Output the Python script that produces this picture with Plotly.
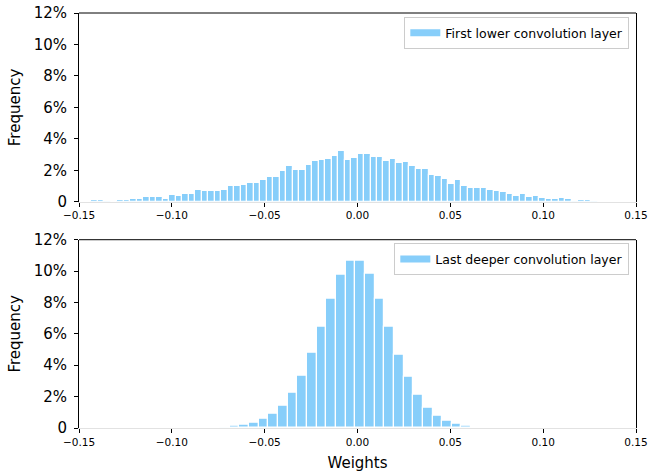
import plotly.graph_objects as go

# ---------------- data (percent of weights per bin) ----------------
top_bin_start = -0.14875   # centre of first bin
top_bin_width = 0.0035
top_freq = [
    0.02, 0.01, 0.10, 0.10, 0.08, 0.01, 0.10, 0.10, 0.17, 0.17,
    0.30, 0.30, 0.30, 0.21, 0.42, 0.36, 0.49, 0.51, 0.74, 0.68,
    0.70, 0.72, 0.74, 0.98, 0.98, 1.06, 1.21, 1.21, 1.38, 1.60,
    1.59, 1.95, 2.25, 2.02, 2.04, 2.31, 2.59, 2.65, 2.72, 2.91,
    3.25, 2.68, 2.80, 3.04, 3.01, 2.87, 2.87, 2.57, 2.70, 2.48,
    2.51, 2.27, 2.06, 2.08, 1.70, 1.61, 1.44, 1.14, 1.38, 1.02,
    0.91, 0.85, 0.85, 0.74, 0.70, 0.64, 0.47, 0.40, 0.47, 0.28,
    0.34, 0.23, 0.17, 0.17, 0.23, 0.15, 0.04, 0.10, 0.10, 0.08,
    0.01, 0.01, 0.02, 0.00, 0.01, 0.02,
]

bottom_bin_start = -0.0818   # centre of first bin
bottom_bin_width = 0.0052
bottom_freq = [
    0.01, 0.03, 0.06, 0.13, 0.22, 0.34, 0.57, 0.89, 1.45, 2.26,
    3.32, 4.81, 6.47, 8.21, 9.74, 10.66, 10.66, 9.81, 8.21, 6.43,
    4.68, 3.24, 2.09, 1.32, 0.79, 0.49, 0.26, 0.13, 0.04, 0.02, 0.01,
]

top_name = "First lower convolution layer"
bottom_name = "Last deeper convolution layer"

x_tick_vals = [-0.15, -0.10, -0.05, 0.00, 0.05, 0.10, 0.15]
x_tick_text = ["\u22120.15", "\u22120.10", "\u22120.05", "0.00", "0.05", "0.10", "0.15"]
y_tick_vals = [0, 2, 4, 6, 8, 10, 12]
y_tick_text = ["0", "2%", "4%", "6%", "8%", "10%", "12%"]

# ---------------- figure ----------------
BAR = "#87CEFA"
FONT = "DejaVu Sans"

top_x = [top_bin_start + i * top_bin_width for i in range(len(top_freq))]
bottom_x = [bottom_bin_start + i * bottom_bin_width for i in range(len(bottom_freq))]

fig = go.Figure()
fig.add_trace(go.Bar(x=top_x, y=top_freq, width=top_bin_width, xaxis="x", yaxis="y",
                     marker=dict(color=BAR, line=dict(color="white", width=1.2)),
                     showlegend=False, hoverinfo="x+y"))
fig.add_trace(go.Bar(x=bottom_x, y=bottom_freq, width=bottom_bin_width, xaxis="x2", yaxis="y2",
                     marker=dict(color=BAR, line=dict(color="white", width=1.2)),
                     showlegend=False, hoverinfo="x+y"))
# legend entries
fig.add_trace(go.Scatter(x=[None], y=[None], xaxis="x", yaxis="y", mode="lines",
                         line=dict(color=BAR, width=7), name=top_name, legend="legend"))
fig.add_trace(go.Scatter(x=[None], y=[None], xaxis="x2", yaxis="y2", mode="lines",
                         line=dict(color=BAR, width=7), name=bottom_name, legend="legend2"))

xcommon = dict(range=[-0.15, 0.15], tickvals=x_tick_vals, ticktext=x_tick_text,
               ticks="outside", ticklen=4, tickwidth=1, tickcolor="black",
               tickfont=dict(size=10.5, color="black", family=FONT),
               ticklabeloverflow="allow",
               showline=True, linecolor="#e2e2e2", linewidth=1,
               showgrid=False, zeroline=False, automargin=False)
ycommon = dict(range=[0, 12], tickvals=y_tick_vals, ticktext=y_tick_text,
               ticks="outside", ticklen=4, tickwidth=1, tickcolor="black",
               tickfont=dict(size=15, color="black", family=FONT),
               ticklabeloverflow="allow", ticklabelstandoff=4,
               showline=True, linecolor="black", linewidth=1, mirror=True,
               showgrid=False, zeroline=False, automargin=False,
               title=dict(text="Frequency", standoff=9,
                          font=dict(size=15, color="black", family=FONT)))

legcommon = dict(x=0.988, xanchor="right", yanchor="top",
                 bgcolor="white", bordercolor="#cccccc", borderwidth=1,
                 font=dict(size=12.5, color="black", family=FONT),
                 itemwidth=30, tracegroupgap=0)

fig.update_layout(
    template="none",
    width=668, height=473,
    margin=dict(l=79, r=32, t=13, b=45, autoexpand=False),
    plot_bgcolor="white", paper_bgcolor="white",
    font=dict(family=FONT, color="black"),
    bargap=0,
    xaxis=dict(domain=[0, 1], anchor="y", **xcommon),
    yaxis=dict(domain=[0.545, 1], anchor="x", **ycommon),
    xaxis2=dict(domain=[0, 1], anchor="y2",
                title=dict(text="Weights", standoff=10,
                           font=dict(size=15, color="black", family=FONT)),
                **xcommon),
    yaxis2=dict(domain=[0, 0.4537], anchor="x2", **ycommon),
    legend=dict(y=0.99, **legcommon),
    legend2=dict(y=0.445, **legcommon),
    shapes=[
        dict(type="line", xref="x domain", yref="y domain", x0=0, x1=1, y0=1, y1=1,
             line=dict(color="black", width=1)),
        dict(type="line", xref="x2 domain", yref="y2 domain", x0=0, x1=1, y0=1, y1=1,
             line=dict(color="black", width=1)),
    ],
)

# remove the browser's default 8px body margin so the figure sits at the window origin
fig.write_html("out.html", config={"displayModeBar": False},
               post_script="document.body.style.margin='0px';")
